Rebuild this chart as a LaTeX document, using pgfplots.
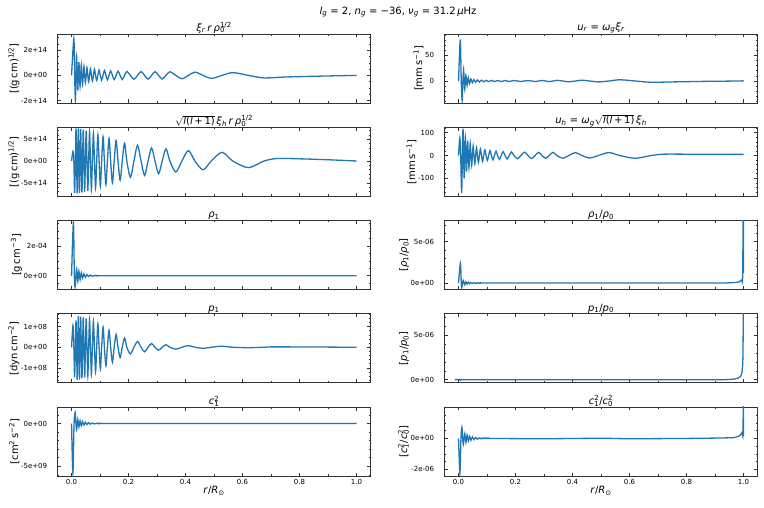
\documentclass[border=0pt]{standalone}
\usepackage{fontspec}
\setmainfont{DejaVu Sans}
\usepackage{pgfplots}
\pgfplotsset{compat=1.18}
\definecolor{c0}{RGB}{31,119,180}
\newcommand{\su}[1]{\textsubscript{#1}}
\newcommand{\ssp}[2]{\rlap{\textsubscript{#1}}\textsuperscript{#2}}
\newcommand{\rootl}{$\sqrt{\hbox{\textit{l}(\textit{l}\,+\,1)}}$}
\pgfplotsset{
  panel/.style={
    scale only axis, width=313.5pt, height=69pt, anchor=south west,
    xmin=-0.05, xmax=1.05,
    xtick={0,0.2,0.4,0.6,0.8,1.0}, minor xtick={0.1,0.3,0.5,0.7,0.9},
    xticklabels={},
    xtick pos=both, ytick pos=both, xticklabel pos=lower, yticklabel pos=left,
    tick align=inside,
    major tick length=3.5pt, minor tick length=2pt,
    every tick/.style={black!80, line width=0.6pt},
    axis line style={black!80, line width=0.8pt},
    scaled y ticks=false, scaled x ticks=false,
    yticklabel style={font=\fontsize{7}{8}\selectfont, inner sep=0pt, xshift=-10pt},
    xticklabel style={font=\fontsize{7}{8}\selectfont, inner sep=0pt, yshift=-3pt},
    title style={font=\fontsize{10}{12}\selectfont, inner sep=0pt, yshift=-5.5pt},
    ylabel style={font=\fontsize{10}{12}\selectfont, inner sep=1.5pt},
    xlabel style={font=\fontsize{10}{12}\selectfont, inner sep=2pt},
  },
  curve/.style={color=c0, line width=1.3pt, smooth, mark=none},
  bottom/.style={xticklabels={0.0,0.2,0.4,0.6,0.8,1.0}, xlabel={\textit{r}/\textit{R}\textsubscript{⊙}}},
}
\begin{document}
\begin{tikzpicture}
\useasboundingbox (0,0) rectangle (764pt,507pt);
\node[font=\fontsize{10}{12}\selectfont] at (398pt,495pt) {\textit{l}\su{\textit{g}} = 2, \textit{n}\su{\textit{g}} = −36, \textit{ν}\su{\textit{g}} = 31.2\,\textit{μ}Hz};

% ---------- A: xi_r r rho^1/2
\begin{axis}[panel, at={(57.3pt,404pt)}, ymin=-2.2e14, ymax=3.3e14,
  ytick={-2e14,0,2e14}, yticklabels={-2e+14,0e+00,2e+14},
  minor ytick={-1.5e14,-1e14,-0.5e14,0.5e14,1e14,1.5e14,2.5e14,3e14},
  title={\textit{ξ}\su{\textit{r}}\,\textit{r}\,\textit{ρ}\ssp{0}{1/2}},
  ylabel={[(g\,cm)\textsuperscript{1/2}]}]
\addplot[curve] coordinates {(0,0)(0.0081,2.93e14)(0.0108,0)(0.0135,-1.96e14)(0.0157,0)(0.0178,1.50e14)(0.0198,0)(0.0218,-1.20e14)(0.0238,0)(0.0258,1.05e14)(0.0279,0)(0.0299,-0.88e14)(0.0321,0)(0.0342,0.85e14)(0.0365,0)(0.0387,-0.70e14)(0.0411,0)(0.0435,0.72e14)(0.0461,0)(0.0486,-0.58e14)(0.0514,0)(0.0541,0.62e14)(0.0571,0)(0.0600,-0.50e14)(0.0632,0)(0.0663,0.54e14)(0.0697,0)(0.0731,-0.45e14)(0.0768,0)(0.0804,0.48e14)(0.0843,0)(0.0882,-0.41e14)(0.0924,0)(0.0966,0.43e14)(0.1011,0)(0.1056,-0.38e14)(0.1105,0)(0.1153,0.39e14)(0.1206,0)(0.1258,-0.36e14)(0.1315,0)(0.1372,0.36e14)(0.1434,0)(0.1496,-0.34e14)(0.1564,0)(0.1631,0.34e14)(0.1705,0)(0.1778,-0.33e14)(0.1859,0)(0.1940,0.32e14)(0.2065,0)(0.2190,-0.31e14)(0.2315,0)(0.2440,0.31e14)(0.2563,0)(0.2685,-0.30e14)(0.2808,0)(0.2930,0.30e14)(0.3055,0)(0.3180,-0.29e14)(0.3315,0)(0.3450,0.29e14)(0.3660,0)(0.3870,-0.27e14)(0.4100,0)(0.4330,0.26e14)(0.4615,0)(0.4900,-0.24e14)(0.5280,0)(0.5660,0.22e14)(0.6205,0)(0.6750,-0.20e14)(0.7500,-0.13e14)(0.8500,-0.07e14)(0.9300,-0.03e14)(1.0,0)};
\end{axis}

% ---------- B: sqrt(l(l+1)) xi_h r rho^1/2
\begin{axis}[panel, at={(57.3pt,310.7pt)}, ymin=-8.08e14, ymax=7.75e14,
  ytick={-5e14,0,5e14}, yticklabels={-5e+14,0e+00,5e+14},
  minor ytick={-8e14,-7e14,-6e14,-4e14,-3e14,-2e14,-1e14,1e14,2e14,3e14,4e14,6e14,7e14},
  title={\rootl\,\textit{ξ}\su{\textit{h}}\,\textit{r}\,\textit{ρ}\ssp{0}{1/2}},
  ylabel={[(g\,cm)\textsuperscript{1/2}]}]
\addplot[curve] coordinates {(0,0)(0.005,2.2e14)(0.0081,0)(0.0108,-7.3e14)(0.0135,0)(0.0157,7.5e14)(0.0178,0)(0.0198,-7.4e14)(0.0218,0)(0.0238,7.5e14)(0.0258,0)(0.0279,-7.3e14)(0.0299,0)(0.0321,7.4e14)(0.0342,0)(0.0365,-7.2e14)(0.0387,0)(0.0411,7.2e14)(0.0435,0)(0.0461,-7.0e14)(0.0486,0)(0.0514,7.0e14)(0.0541,0)(0.0571,-6.8e14)(0.0600,0)(0.0632,6.7e14)(0.0663,0)(0.0697,-6.5e14)(0.0731,0)(0.0768,6.4e14)(0.0804,0)(0.0843,-6.2e14)(0.0882,0)(0.0924,6.0e14)(0.0966,0)(0.1011,-5.8e14)(0.1056,0)(0.1105,5.6e14)(0.1153,0)(0.1206,-5.4e14)(0.1258,0)(0.1315,5.2e14)(0.1372,0)(0.1434,-5.0e14)(0.1496,0)(0.1564,4.7e14)(0.1631,0)(0.1705,-4.4e14)(0.1778,0)(0.1859,4.1e14)(0.1940,0)(0.2065,-3.7e14)(0.2190,0)(0.2315,3.6e14)(0.2440,0)(0.2563,-3.3e14)(0.2685,0)(0.2808,3.0e14)(0.2930,0)(0.3055,-2.9e14)(0.3180,0)(0.3315,2.8e14)(0.3450,0)(0.3660,-2.5e14)(0.3870,0)(0.4100,2.4e14)(0.4330,0)(0.4615,-2.0e14)(0.4900,0)(0.5280,2.0e14)(0.5660,0)(0.6205,-1.5e14)(0.6750,0)(0.7200,0.58e14)(0.8000,0.52e14)(0.9000,0.30e14)(1.0,0.02e14)};
\end{axis}

% ---------- C: rho_1
\begin{axis}[panel, at={(57.3pt,217.5pt)}, ymin=-0.92e-4, ymax=3.7e-4,
  ytick={0,2e-4}, yticklabels={0e+00,2e-04},
  minor ytick={-0.5e-4,0.5e-4,1e-4,1.5e-4,2.5e-4,3e-4,3.5e-4},
  title={\textit{ρ}\su{1}},
  ylabel={[g\,cm\textsuperscript{−3}]}]
\addplot[curve] coordinates {(0,0)(0.0065,3.57e-4)(0.0098,0)(0.0125,-0.76e-4)(0.0152,0)(0.0178,0.45e-4)(0.0198,0)(0.0218,-0.38e-4)(0.0238,0)(0.0258,0.30e-4)(0.0279,0)(0.0299,-0.25e-4)(0.0321,0)(0.0342,0.20e-4)(0.0365,0)(0.0387,-0.16e-4)(0.0411,0)(0.0435,0.13e-4)(0.0461,0)(0.0486,-0.10e-4)(0.0514,0)(0.0541,0.08e-4)(0.0571,0)(0.0600,-0.06e-4)(0.0632,0)(0.0663,0.05e-4)(0.0697,0)(0.0731,-0.04e-4)(0.0768,0)(0.0804,0.03e-4)(0.0843,0)(0.0882,-0.02e-4)(0.0924,0)(0.0966,0.015e-4)(0.1011,0)(0.5,0)(1.0,0)};
\end{axis}

% ---------- D: p_1
\begin{axis}[panel, at={(57.3pt,124.2pt)}, ymin=-1.72e8, ymax=1.62e8,
  ytick={-1e8,0,1e8}, yticklabels={-1e+08,0e+00,1e+08},
  minor ytick={-1.6e8,-1.4e8,-1.2e8,-0.8e8,-0.6e8,-0.4e8,-0.2e8,0.2e8,0.4e8,0.6e8,0.8e8,1.2e8,1.4e8,1.6e8},
  title={\textit{p}\su{1}},
  ylabel={[dyn\,cm\textsuperscript{−2}]}]
\addplot[curve] coordinates {(0,0)(0.005,1.05e8)(0.0081,0)(0.0108,-1.45e8)(0.0135,0)(0.0157,1.30e8)(0.0178,0)(0.0198,-1.58e8)(0.0218,0)(0.0238,1.51e8)(0.0258,0)(0.0279,-1.56e8)(0.0299,0)(0.0321,1.48e8)(0.0342,0)(0.0365,-1.50e8)(0.0387,0)(0.0411,1.45e8)(0.0435,0)(0.0461,-1.45e8)(0.0486,0)(0.0514,1.40e8)(0.0541,0)(0.0571,-1.38e8)(0.0600,0)(0.0632,1.33e8)(0.0663,0)(0.0697,-1.30e8)(0.0731,0)(0.0768,1.25e8)(0.0804,0)(0.0843,-1.20e8)(0.0882,0)(0.0924,1.13e8)(0.0966,0)(0.1011,-1.06e8)(0.1056,0)(0.1105,0.98e8)(0.1153,0)(0.1206,-0.90e8)(0.1258,0)(0.1315,0.82e8)(0.1372,0)(0.1434,-0.72e8)(0.1496,0)(0.1564,0.62e8)(0.1631,0)(0.1705,-0.50e8)(0.1778,0)(0.1859,0.45e8)(0.1940,0)(0.2065,-0.32e8)(0.2190,0)(0.2315,0.28e8)(0.2440,0)(0.2563,-0.22e8)(0.2685,0)(0.2808,0.18e8)(0.2930,0)(0.3055,-0.14e8)(0.3180,0)(0.3315,0.12e8)(0.3450,0)(0.3660,-0.09e8)(0.3870,0)(0.4100,0.08e8)(0.4330,0)(0.4615,-0.05e8)(0.4900,0)(0.5280,0.05e8)(0.5660,0)(0.6205,-0.02e8)(0.6750,0)(0.7200,0.02e8)(1.0,0)};
\end{axis}

% ---------- E: c_1^2
\begin{axis}[panel, bottom, at={(57.3pt,31pt)}, ymin=-6.14e9, ymax=1.93e9,
  ytick={-5e9,0}, yticklabels={-5e+09,0e+00},
  minor ytick={-6e9,-4e9,-3e9,-2e9,-1e9,1e9},
  title={\textit{c}\ssp{1}{2}},
  ylabel={[cm\textsuperscript{2}\,s\textsuperscript{−2}]}]
\addplot[curve] coordinates {(0,0)(0.0047,-5.83e9)(0.0088,0)(0.0128,1.29e9)(0.0153,0)(0.0178,-0.72e9)(0.0198,0)(0.0218,0.49e9)(0.0238,0)(0.0258,-0.40e9)(0.0279,0)(0.0299,0.33e9)(0.0321,0)(0.0342,-0.27e9)(0.0365,0)(0.0387,0.22e9)(0.0411,0)(0.0435,-0.18e9)(0.0461,0)(0.0486,0.15e9)(0.0514,0)(0.0541,-0.12e9)(0.0571,0)(0.0600,0.10e9)(0.0632,0)(0.0663,-0.08e9)(0.0697,0)(0.0731,0.06e9)(0.0768,0)(0.0804,-0.05e9)(0.0843,0)(0.0882,0.04e9)(0.0924,0)(0.0966,-0.03e9)(0.1011,0)(0.1056,0.02e9)(0.1105,0)(0.5,0)(1.0,0)};
\end{axis}

% ---------- F: u_r
\begin{axis}[panel, at={(444.3pt,404pt)}, ymin=-42.9, ymax=91.7,
  ytick={0,50}, yticklabels={0,50},
  minor ytick={-40,-30,-20,-10,10,20,30,40,60,70,80,90},
  title={\textit{u}\su{\textit{r}} = \textit{ω}\su{\textit{g}}\textit{ξ}\su{\textit{r}}},
  ylabel={[mm\,s\textsuperscript{−1}]}]
\addplot[curve] coordinates {(0,0)(0.0060,81)(0.0095,0)(0.0127,-38)(0.0152,0)(0.0178,22)(0.0198,0)(0.0218,-16)(0.0238,0)(0.0258,11)(0.0279,0)(0.0299,-8.5)(0.0321,0)(0.0342,6.5)(0.0365,0)(0.0387,-5)(0.0411,0)(0.0435,4)(0.0461,0)(0.0486,-3.3)(0.0514,0)(0.0541,2.8)(0.0571,0)(0.0600,-2.4)(0.0632,0)(0.0663,2.1)(0.0697,0)(0.0731,-1.9)(0.0768,0)(0.0804,1.7)(0.0843,0)(0.0882,-1.5)(0.0924,0)(0.0966,1.4)(0.1011,0)(0.1056,-1.3)(0.1105,0)(0.1153,1.2)(0.1206,0)(0.1258,-1.1)(0.1315,0)(0.1372,1.05)(0.1434,0)(0.1496,-1.0)(0.1564,0)(0.1631,1.0)(0.1705,0)(0.1778,-0.95)(0.1859,0)(0.1940,0.95)(0.2065,0)(0.2190,-0.95)(0.2315,0)(0.2440,1.0)(0.2563,0)(0.2685,-1.0)(0.2808,0)(0.2930,1.05)(0.3055,0)(0.3180,-1.1)(0.3315,0)(0.3450,1.3)(0.3660,0)(0.3870,-1.5)(0.4100,0)(0.4330,1.6)(0.4615,0)(0.4900,-1.8)(0.5280,0)(0.5660,2.4)(0.6205,0)(0.6750,-2.4)(0.7500,-1.8)(0.8500,-0.8)(0.9500,-0.2)(1.0,0.3)};
\end{axis}

% ---------- G: u_h
\begin{axis}[panel, at={(444.3pt,310.7pt)}, ymin=-179, ymax=124,
  ytick={-100,0,100}, yticklabels={-100,0,100},
  minor ytick={-160,-140,-120,-80,-60,-40,-20,20,40,60,80,120},
  title={\textit{u}\su{\textit{h}} = \textit{ω}\su{\textit{g}}\rootl\,\textit{ξ}\su{\textit{h}}},
  ylabel={[mm\,s\textsuperscript{−1}]}]
\addplot[curve] coordinates {(0,0)(0.0045,77)(0.0075,0)(0.0108,-165)(0.0135,0)(0.0157,118)(0.0178,0)(0.0198,-100)(0.0218,0)(0.0238,80)(0.0258,0)(0.0279,-70)(0.0299,0)(0.0321,65)(0.0342,0)(0.0365,-55)(0.0387,0)(0.0411,52)(0.0435,0)(0.0461,-44)(0.0486,0)(0.0514,42)(0.0541,0)(0.0571,-36)(0.0600,0)(0.0632,35)(0.0663,0)(0.0697,-30)(0.0731,0)(0.0768,29)(0.0804,0)(0.0843,-26)(0.0882,0)(0.0924,25)(0.0966,0)(0.1011,-22)(0.1056,0)(0.1105,22)(0.1153,0)(0.1206,-19)(0.1258,0)(0.1315,19)(0.1372,0)(0.1434,-17)(0.1496,0)(0.1564,17)(0.1631,0)(0.1705,-15)(0.1778,0)(0.1859,16)(0.1940,0)(0.2065,-14)(0.2190,0)(0.2315,15)(0.2440,0)(0.2563,-13)(0.2685,0)(0.2808,14)(0.2930,0)(0.3055,-12)(0.3180,0)(0.3315,14)(0.3450,0)(0.3660,-12)(0.3870,0)(0.4100,13)(0.4330,0)(0.4615,-11)(0.4900,0)(0.5280,13)(0.5660,0)(0.6205,-12)(0.6750,0)(0.7200,6)(0.8000,6)(0.9000,5.5)(1.0,5)};
\end{axis}

% ---------- H: rho_1/rho_0
\begin{axis}[panel, at={(444.3pt,217.5pt)}, ymin=-0.78e-6, ymax=7.56e-6,
  ytick={0,5e-6}, yticklabels={0e+00,5e-06},
  minor ytick={1e-6,2e-6,3e-6,4e-6,6e-6,7e-6},
  title={\textit{ρ}\su{1}/\textit{ρ}\su{0}},
  ylabel={[\textit{ρ}\su{1}/\textit{ρ}\su{0}]}]
\addplot[curve] coordinates {(0,0)(0.0065,2.4e-6)(0.0095,0)(0.0115,-0.57e-6)(0.0140,0)(0.0165,0.30e-6)(0.0190,0)(0.0218,-0.20e-6)(0.0238,0)(0.0258,0.15e-6)(0.0279,0)(0.0299,-0.12e-6)(0.0321,0)(0.0342,0.10e-6)(0.0365,0)(0.0387,-0.08e-6)(0.0411,0)(0.0435,0.07e-6)(0.0461,0)(0.0486,-0.06e-6)(0.0514,0)(0.0541,0.05e-6)(0.0571,0)(0.0600,-0.04e-6)(0.0632,0)(0.0663,0.03e-6)(0.0697,0)(0.0731,-0.03e-6)(0.0768,0)(0.0804,0.02e-6)(0.0843,0)(0.5,0)(0.9,0.01e-6)(0.95,0.03e-6)(0.97,0.07e-6)(0.985,0.15e-6)(0.993,0.35e-6)(0.997,1.0e-6)(0.999,12e-6)(1.0,1.2e-6)};
\end{axis}

% ---------- I: p_1/p_0
\begin{axis}[panel, at={(444.3pt,124.2pt)}, ymin=-0.34e-6, ymax=7.44e-6,
  ytick={0,5e-6}, yticklabels={0e+00,5e-06},
  minor ytick={1e-6,2e-6,3e-6,4e-6,6e-6,7e-6},
  title={\textit{p}\su{1}/\textit{p}\su{0}},
  ylabel={[\textit{p}\su{1}/\textit{p}\su{0}]}]
\addplot[curve] coordinates {(0,0)(0.003,0.05e-6)(0.006,-0.06e-6)(0.010,0.03e-6)(0.020,0)(0.5,0)(0.9,0.01e-6)(0.95,0.04e-6)(0.97,0.10e-6)(0.98,0.18e-6)(0.99,0.40e-6)(0.995,1.0e-6)(0.998,3.0e-6)(1.0,12e-6)};
\end{axis}

% ---------- J: c_1^2/c_0^2
\begin{axis}[panel, bottom, at={(444.3pt,31pt)}, ymin=-2.44e-6, ymax=2.04e-6,
  ytick={-2e-6,0}, yticklabels={-2e-06,0e+00},
  minor ytick={-1.5e-6,-1e-6,-0.5e-6,0.5e-6,1e-6,1.5e-6,2e-6},
  title={\textit{c}\ssp{1}{2}/\textit{c}\ssp{0}{2}},
  ylabel={[\textit{c}\ssp{1}{2}/\textit{c}\ssp{0}{2}]}]
\addplot[curve] coordinates {(0,0)(0.0047,-2.27e-6)(0.0085,0)(0.0117,0.72e-6)(0.0145,0)(0.0168,-0.38e-6)(0.0190,0)(0.0218,0.30e-6)(0.0238,0)(0.0258,-0.25e-6)(0.0279,0)(0.0299,0.21e-6)(0.0321,0)(0.0342,-0.17e-6)(0.0365,0)(0.0387,0.14e-6)(0.0411,0)(0.0435,-0.12e-6)(0.0461,0)(0.0486,0.10e-6)(0.0514,0)(0.0541,-0.08e-6)(0.0571,0)(0.0600,0.06e-6)(0.0632,0)(0.0663,-0.05e-6)(0.0697,0)(0.0731,0.04e-6)(0.0768,0)(0.0804,-0.03e-6)(0.0843,0)(0.0882,0.02e-6)(0.0924,0)(0.3,-0.02e-6)(0.5,0.01e-6)(0.6,-0.02e-6)(0.8,0)(0.95,0.04e-6)(0.975,0.10e-6)(0.988,0.20e-6)(0.995,0.40e-6)(0.998,0.30e-6)(0.9993,3.0e-6)(1.0,0.15e-6)};
\end{axis}
\end{tikzpicture}
\end{document}
